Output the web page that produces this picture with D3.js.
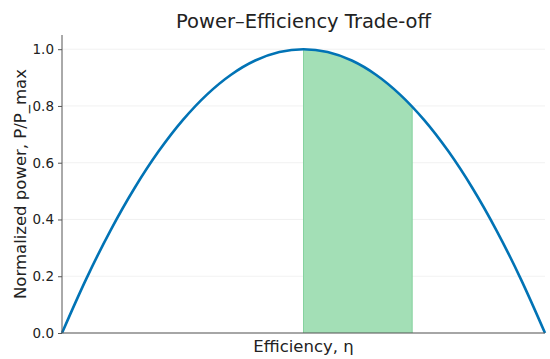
<!DOCTYPE html>
<html>
<head>
<meta charset="utf-8">
<script src="https://cdn.jsdelivr.net/npm/d3@7"></script>
<style>
  body { margin: 0; background: #fff; }
  text { font-family: "DejaVu Sans", sans-serif; fill: #222; }
</style>
</head>
<body>
<script>
// values
var efficiency = [0, 0.05, 0.1, 0.15, 0.2, 0.25, 0.3, 0.35, 0.4, 0.45, 0.5,
                  0.55, 0.6, 0.65, 0.7, 0.75, 0.8, 0.85, 0.9, 0.95, 1];
var power = [0, 0.19, 0.36, 0.51, 0.64, 0.75, 0.84, 0.91, 0.96, 0.99, 1.0,
             0.99, 0.96, 0.91, 0.84, 0.75, 0.64, 0.51, 0.36, 0.19, 0];
var bandRange = [0.5, 0.725];
var yTicks = [0, 0.2, 0.4, 0.6, 0.8, 1.0];

var w = 550, h = 359;
var margin = {top: 35, right: 5, bottom: 26, left: 62};

var svg = d3.select("body").append("svg")
    .attr("width", w)
    .attr("height", h);

var x = d3.scaleLinear().domain([0, 1]).range([margin.left, w - margin.right]);
var y = d3.scaleLinear().domain([0, 1.05]).range([h - margin.bottom, margin.top]);

var data = efficiency.map(function(e, i){ return {e: e, p: power[i]}; });

// grid
svg.append("g").selectAll("line")
    .data(yTicks)
    .enter().append("line")
    .attr("x1", x(0)).attr("x2", x(1))
    .attr("y1", d => y(d)).attr("y2", d => y(d))
    .attr("stroke", "#eeeeee")
    .attr("stroke-width", 0.8);

// shaded band under the curve
svg.append("clipPath").attr("id", "band")
  .append("rect")
    .attr("x", x(bandRange[0]))
    .attr("y", y(1.05))
    .attr("width", x(bandRange[1]) - x(bandRange[0]))
    .attr("height", y(0) - y(1.05));

var area = d3.area()
    .x(d => x(d.e)).y0(y(0)).y1(d => y(d.p))
    .curve(d3.curveCatmullRom);

svg.append("path")
    .datum(data)
    .attr("clip-path", "url(#band)")
    .attr("d", area)
    .attr("fill", "#a3dfb6");

// band edges
svg.append("g").selectAll("line")
    .data(bandRange)
    .enter().append("line")
    .attr("x1", d => x(d)).attr("x2", d => x(d))
    .attr("y1", y(0))
    .attr("y2", d => y(d3.interpolateNumber(
        power[Math.floor(d * 20)], power[Math.min(20, Math.floor(d * 20) + 1)])((d * 20) % 1)))
    .attr("stroke", "#86d29f")
    .attr("stroke-width", 1);

// curve
var line = d3.line()
    .x(d => x(d.e)).y(d => y(d.p))
    .curve(d3.curveCatmullRom);

svg.append("path")
    .datum(data)
    .attr("d", line)
    .attr("fill", "none")
    .attr("stroke", "#0173b5")
    .attr("stroke-width", 2.6);

// axes
var yAxis = d3.axisLeft(y).tickValues(yTicks).tickFormat(d3.format(".1f")).tickSize(4).tickPadding(4);
var gy = svg.append("g")
    .attr("transform", "translate(" + margin.left + ",0)")
    .call(yAxis);
gy.selectAll("text").attr("font-size", 13.5).attr("font-family", "DejaVu Sans").attr("fill", "#222");
gy.selectAll("line").attr("stroke", "#555");
gy.select(".domain").attr("stroke", "#555").attr("d", "M0," + y(1.05) + "V" + y(0));

svg.append("line")
    .attr("x1", x(0)).attr("x2", x(1))
    .attr("y1", y(0)).attr("y2", y(0))
    .attr("stroke", "#555")
    .attr("stroke-width", 1.2);

// labels
svg.append("text")
    .attr("x", (x(0) + x(1)) / 2)
    .attr("y", 28)
    .attr("text-anchor", "middle")
    .attr("font-size", 19.5)
    .text("Power–Efficiency Trade-off");

svg.append("text")
    .attr("x", (x(0) + x(1)) / 2)
    .attr("y", 352)
    .attr("text-anchor", "middle")
    .attr("font-size", 16.5)
    .text("Efficiency, η");

svg.append("text")
    .attr("transform", "translate(26," + (y(0) + y(1.05)) / 2 + ") rotate(-90)")
    .attr("text-anchor", "middle")
    .attr("font-size", 16.5)
    .text("Normalized power, P/P_max");
</script>
</body>
</html>
